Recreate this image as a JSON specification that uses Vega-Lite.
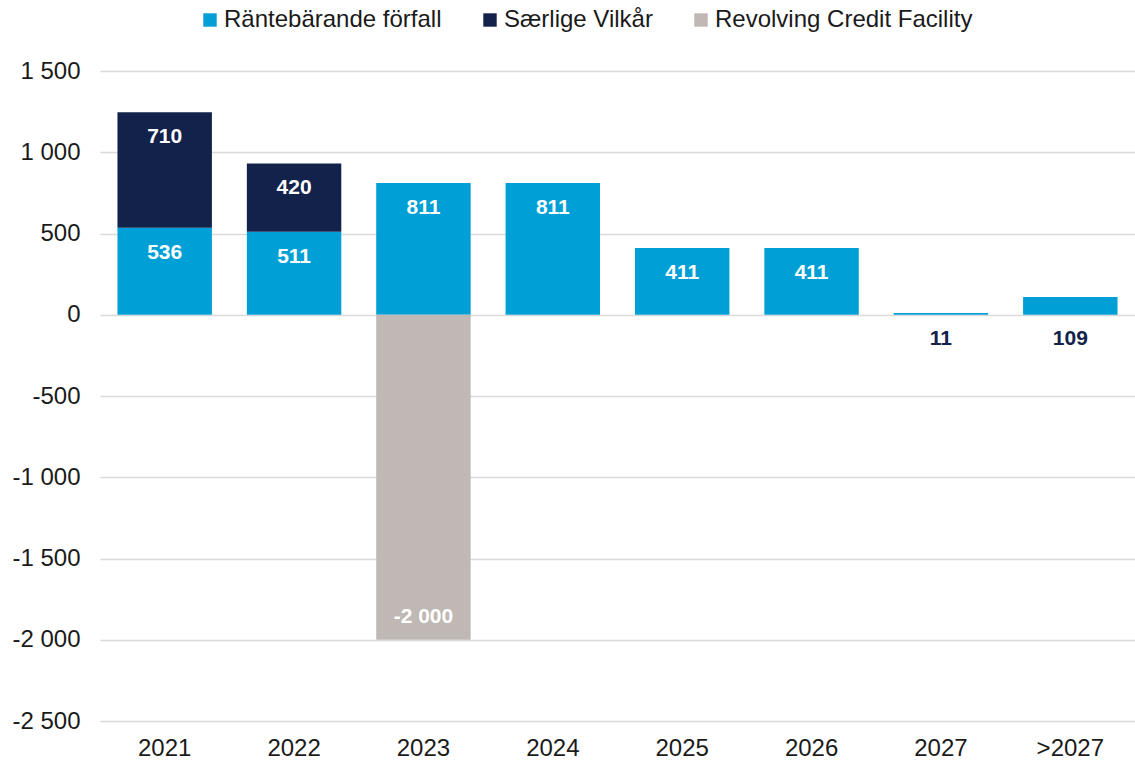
{
  "$schema": "https://vega.github.io/schema/vega-lite/v6.json",
  "autosize": "none",
  "width": 1035,
  "height": 650,
  "padding": {"left": 100, "top": 71, "right": 0, "bottom": 40},
  "background": "white",
  "config": {
    "font": "Liberation Sans",
    "view": {"stroke": null},
    "locale": {"number": {"decimal": ",", "thousands": " ", "grouping": [3], "currency": ["", ""], "minus": "-"}}
  },
  "data": {
    "values": [
      {"year": "2021", "series": "Räntebärande förfall", "value": 536},
      {"year": "2021", "series": "Særlige Vilkår", "value": 710},
      {"year": "2022", "series": "Räntebärande förfall", "value": 511},
      {"year": "2022", "series": "Særlige Vilkår", "value": 420},
      {"year": "2023", "series": "Räntebärande förfall", "value": 811},
      {"year": "2023", "series": "Revolving Credit Facility", "value": -2000},
      {"year": "2024", "series": "Räntebärande förfall", "value": 811},
      {"year": "2025", "series": "Räntebärande förfall", "value": 411},
      {"year": "2026", "series": "Räntebärande förfall", "value": 411},
      {"year": "2027", "series": "Räntebärande förfall", "value": 11},
      {"year": ">2027", "series": "Räntebärande förfall", "value": 109}
    ]
  },
  "transform": [
    {"stack": "value", "groupby": ["year"], "sort": [{"field": "series", "order": "ascending"}], "as": ["v0", "v1"]}
  ],
  "encoding": {
    "x": {
      "field": "year", "type": "nominal",
      "sort": ["2021", "2022", "2023", "2024", "2025", "2026", "2027", ">2027"],
      "scale": {"paddingInner": 0.27, "paddingOuter": 0.135},
      "axis": {"title": null, "labelAngle": 0, "domain": false, "ticks": false, "labelPadding": 15, "labelFontSize": 24, "labelColor": "#1a1a1a", "labelFont": "Liberation Sans"}
    }
  },
  "layer": [
    {
      "mark": {"type": "bar"},
      "encoding": {
        "y": {
          "field": "v0", "type": "quantitative",
          "scale": {"domain": [-2500, 1500], "nice": false, "zero": false},
          "axis": {"title": null, "values": [-2500, -2000, -1500, -1000, -500, 0, 500, 1000, 1500], "format": ",d", "grid": true, "gridColor": "#d9d9d9", "gridWidth": 1.5, "domain": false, "ticks": false, "labelPadding": 20, "labelFontSize": 24, "labelColor": "#1a1a1a", "labelFont": "Liberation Sans"}
        },
        "y2": {"field": "v1"},
        "color": {
          "field": "series", "type": "nominal",
          "scale": {"domain": ["Räntebärande förfall", "Særlige Vilkår", "Revolving Credit Facility"], "range": ["#009FD6", "#12224B", "#BFB8B5"]},
          "legend": {"title": null, "orient": "none", "legendX": 98, "legendY": -63, "direction": "horizontal", "columns": 3, "columnPadding": 36, "symbolType": "square", "symbolSize": 180, "symbolStrokeWidth": 0, "labelFontSize": 24, "labelLimit": 500, "labelColor": "#1a1a1a", "labelFont": "Liberation Sans", "labelOffset": 2}
        }
      }
    },
    {
      "mark": {"type": "rule", "color": "#000000", "strokeWidth": 2},
      "encoding": {"y": {"datum": 0, "type": "quantitative"}}
    },
    {
      "transform": [{"filter": "datum.value >= 200"}],
      "mark": {"type": "text", "color": "white", "fontWeight": "bold", "fontSize": 21, "dy": 25, "baseline": "middle"},
      "encoding": {"y": {"field": "v1", "type": "quantitative"}, "text": {"field": "value", "type": "quantitative", "format": ",d"}}
    },
    {
      "transform": [{"filter": "datum.value < 0"}],
      "mark": {"type": "text", "color": "white", "fontWeight": "bold", "fontSize": 21, "dy": -23, "baseline": "middle"},
      "encoding": {"y": {"field": "v1", "type": "quantitative"}, "text": {"field": "value", "type": "quantitative", "format": ",d"}}
    },
    {
      "transform": [{"filter": "datum.value >= 0 && datum.value < 200"}],
      "mark": {"type": "text", "color": "#12224B", "fontWeight": "bold", "fontSize": 21, "dy": 24, "baseline": "middle"},
      "encoding": {"y": {"field": "v0", "type": "quantitative"}, "text": {"field": "value", "type": "quantitative", "format": ",d"}}
    }
  ]
}
